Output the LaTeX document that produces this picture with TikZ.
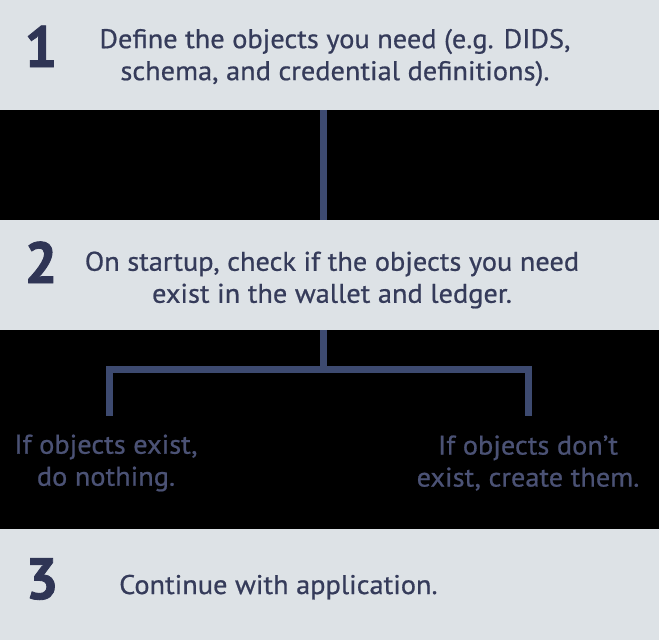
\documentclass[tikz,border=0pt]{standalone}
\usepackage{fontspec}
\setmainfont{PT Sans}[FakeStretch=1.05]
\newfontfamily\txtfont{PT Sans}[FakeStretch=1.05,FakeBold=0.7]
\newfontfamily\numfont{PT Sans Bold}[FakeBold=1.5]
\definecolor{band}{HTML}{DDE2E6}
\definecolor{ink}{HTML}{353B5A}
\definecolor{numink}{HTML}{2F3555}
\definecolor{dimink}{HTML}{4B5275}
\definecolor{wire}{HTML}{3D4A70}
\tikzset{
  stepnum/.style={font=\numfont\fontsize{58}{58}\selectfont, text=numink, inner sep=0pt, anchor=base},
  steptext/.style={font=\txtfont\fontsize{27}{32}\selectfont, text=ink, align=center, inner sep=0pt},
  branchtext/.style={font=\txtfont\fontsize{27}{32}\selectfont, text=dimink, align=center, inner sep=0pt},
  wireline/.style={draw=wire, line width=7pt},
}
\begin{document}
\begin{tikzpicture}[x=1pt,y=-1pt]
\useasboundingbox (0,0) rectangle (659,640);
\fill[black] (0,0) rectangle (659,640);
\fill[band] (0,0) rectangle (659,110);
\fill[band] (0,220) rectangle (659,330);
\fill[band] (0,529) rectangle (659,640);

\node[stepnum] (n1) at (41,67) {1};
\node[stepnum] (n2) at (41,283) {2};
\node[stepnum] (n3) at (42,599) {3};

\node[steptext] (t1) at (335,57.5) {Define the objects you need (e.g. DIDS,\\schema, and credential definitions).};
\node[steptext] (t2) at (332,280) {On startup, check if the objects you need\\exist in the wallet and ledger.};
\node[steptext, anchor=base west] (t3) at (119,594) {Continue with application.};

\node[branchtext] (bl) at (106,463) {If objects exist,\\do nothing.};
\node[branchtext] (br) at (528,463) {If objects don’t\\exist, create them.};

\coordinate (b1) at (323,110);
\coordinate (b2) at (323,220);
\coordinate (j) at (323,369.5);
\coordinate (b3) at (323,330);
\draw[wireline] (b1) -- (b2);
\draw[wireline] (b3) -- (j);
\draw[wireline, line cap=butt] (j) -| (109.5,416);
\draw[wireline, line cap=butt] (j) -| (528,416);
\end{tikzpicture}
\end{document}
